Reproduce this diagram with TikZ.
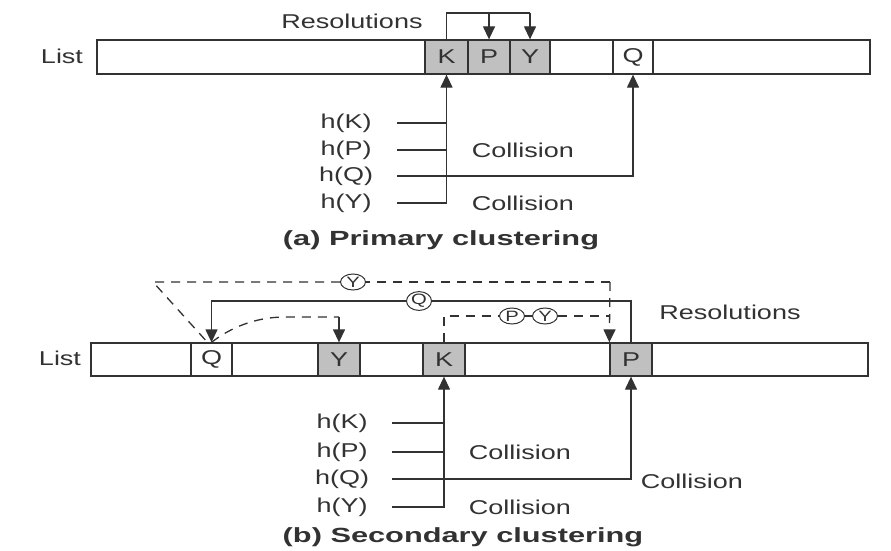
\documentclass[tikz,border=0pt]{standalone}
\usepackage{fontspec}
\setmainfont{Liberation Sans}[FakeStretch=1.35]
\newfontfamily\capfont{Liberation Sans}[FakeStretch=1.5]
\usetikzlibrary{arrows.meta,shapes.geometric,calc}
\definecolor{ink}{RGB}{50,50,50}
\definecolor{shade}{RGB}{192,192,192}
\begin{document}
\begin{tikzpicture}[x=1pt,y=-1pt,
  txt/.style={text=ink,font=\fontsize{20}{22}\selectfont, inner sep=0pt},
  capt/.style={text=ink,font=\capfont\fontsize{20.5}{22}\selectfont\bfseries, inner sep=0pt},
  lst/.style={draw=ink, line width=1.3pt, minimum height=34pt, inner sep=0pt},
  cell/.style={draw=ink, line width=1.3pt, minimum height=34pt, inner sep=0pt, text=ink, font=\fontsize{20}{20}\selectfont},
  hit/.style={cell, fill=shade},
  ln/.style={draw=ink, line width=1.3pt},
  arr/.style={ln, -{Triangle[length=13pt,width=12pt]}},
  dsh/.style={ln, dash pattern=on 9pt off 7pt},
  circ/.style={draw=ink, line width=1pt, ellipse, minimum width=25pt, minimum height=16pt, inner sep=0pt, fill=white, text=ink, font=\fontsize{15}{15}\selectfont}
]
\useasboundingbox (0,0) rectangle (891,551);
\fill[white] (0,0) rectangle (891,551);

% ---------- (a) primary clustering ----------
\node[txt] (resA) at (352,21) {Resolutions};
\node[txt] (listA) at (62,56) {List};
\node[lst, minimum width=773pt] (rowA) at (483.5,57) {};
\node[hit, minimum width=43pt] (Ka) at (446.5,57) {K};
\node[hit, minimum width=42pt] (Pa) at (489,57) {P};
\node[hit, minimum width=40pt] (Ya) at (530,57) {Y};
\node[cell, minimum width=40pt] (Qa) at (633,57) {Q};

\coordinate (ra) at (446.5,13);
\draw[ln] (Ka.north) -- (ra) -- (ra -| Ya.north);
\draw[arr] (ra -| Pa.north) -- (Pa.north);
\draw[arr] (ra -| Ya.north) -- (Ya.north);

\node[txt] (hKa) at (346,123) {h(K)};
\node[txt] (hPa) at (346,150) {h(P)};
\node[txt] (hQa) at (346,176) {h(Q)};
\node[txt] (hYa) at (346,203) {h(Y)};
\coordinate (sKa) at (397,123);
\coordinate (sPa) at (397,150);
\coordinate (sQa) at (397,176);
\coordinate (sYa) at (397,203);
\draw[arr] (sYa) -| (Ka.south);
\draw[ln] (sKa) -- (sKa -| Ka.south);
\draw[ln] (sPa) -- (sPa -| Ka.south);
\draw[arr] (sQa) -| (Qa.south);
\node[txt] (c1a) at (523,150) {Collision};
\node[txt] (c2a) at (523,203) {Collision};
\node[capt] (capA) at (441,240) {(a) Primary clustering};

% ---------- (b) secondary clustering ----------
\node[txt] (listB) at (60,358) {List};
\node[lst, minimum width=777pt, minimum height=33pt] (rowB) at (479.5,359.5) {};
\node[cell, minimum width=41pt, minimum height=33pt] (Qb) at (211.5,359.5) {Q};
\node[hit, minimum width=42pt, minimum height=33pt] (Yb) at (339,359.5) {Y};
\node[hit, minimum width=42pt, minimum height=33pt] (Kb) at (444,359.5) {K};
\node[hit, minimum width=42pt, minimum height=33pt] (Pb) at (631,359.5) {P};
\node[txt] (resB) at (730,312) {Resolutions};

\node[circ] (cQ) at (419,301) {Q};
\node[circ] (cY1) at (353,282) {Y};
\node[circ] (cP) at (512,316) {P};
\node[circ] (cY2) at (545,316) {Y};

% Q resolution (solid)
\draw[ln] (Pb.north) |- (cQ.east);
\draw[arr] (cQ.west) -| (Qb.north);

% P and Y resolution (dashed)
\coordinate (tr) at (610,282);
\coordinate (tl) at (153,282);
\draw[dsh] (Kb.north) |- (cP.west);
\draw[ln] (cP.east) -- (cY2.west);
\draw[dsh] (cY2.east) -- (cY2.east -| tr);
\draw[arr, dsh] (tr) -- (Pb.north west);
\draw[dsh] (tr) -- (cY1.east);
\draw[dsh] (cY1.west) -- (tl) -- ($(Qb.north)+(-4,0)$);
\coordinate (ty) at (339,317);
\draw[dsh] (Qb.north) .. controls (230,328) and (255,317) .. (285,317) -- (ty);
\draw[arr] (ty) -- (Yb.north);

\node[txt] (hKb) at (342,423) {h(K)};
\node[txt] (hPb) at (342,452) {h(P)};
\node[txt] (hQb) at (342,479) {h(Q)};
\node[txt] (hYb) at (342,507) {h(Y)};
\coordinate (sKb) at (392,423);
\coordinate (sPb) at (392,452);
\coordinate (sQb) at (392,479);
\coordinate (sYb) at (392,507);
\draw[arr] (sYb) -| (Kb.south);
\draw[ln] (sKb) -- (sKb -| Kb.south);
\draw[ln] (sPb) -- (sPb -| Kb.south);
\draw[arr] (sQb) -| (Pb.south);
\node[txt] (c1b) at (520,452) {Collision};
\node[txt] (c2b) at (520,507) {Collision};
\node[txt] (c3b) at (692,481) {Collision};
\node[capt] (capB) at (463,537) {(b) Secondary clustering};
\end{tikzpicture}
\end{document}
